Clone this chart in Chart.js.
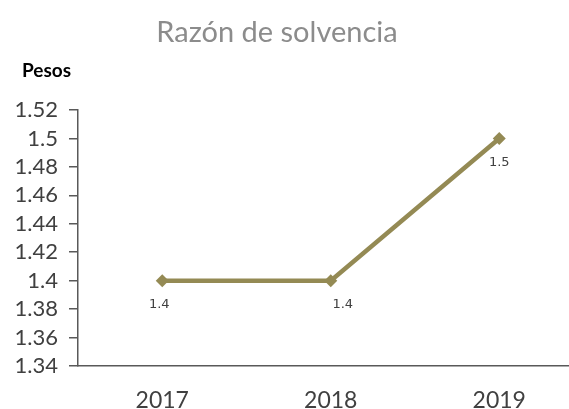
<!DOCTYPE html>
<html>
<head>
<meta charset="utf-8">
<script src="https://cdn.jsdelivr.net/npm/chart.js@4"></script>
<style>
  html, body { margin: 0; padding: 0; background: #fff; overflow: hidden; }
  /* plot runs a little past the right edge, as in the original */
  canvas { display: block; }
</style>
</head>
<body>
<canvas id="chart" width="590" height="409"></canvas>
<script>
// Data
const years = ["2017", "2018", "2019"];
const ratio = [1.4, 1.4, 1.5];
const ratioLabels = ["1.4", "1.4", "1.5"];
const yTicks = [1.34, 1.36, 1.38, 1.4, 1.42, 1.44, 1.46, 1.48, 1.5, 1.52];

const lineColor = "#948A54";
const axisColor = "#595959";

// title, unit label and point labels drawn on top
const textPlugin = {
  id: "texts",
  afterDatasetsDraw(chart) {
    const ctx = chart.ctx;
    ctx.save();
    ctx.fillStyle = "#8C8C8C";
    ctx.font = "29px Lato";
    ctx.textAlign = "center";
    ctx.textBaseline = "alphabetic";
    ctx.fillText("Razón de solvencia", 277, 42);

    ctx.fillStyle = "#000";
    ctx.font = "bold 19px Lato";
    ctx.textAlign = "left";
    ctx.fillText("Pesos", 22, 77);

    // small point labels under each marker
    const shift = [-3, 12, 0];
    const meta = chart.getDatasetMeta(0);
    ctx.fillStyle = "#404040";
    ctx.font = "13px 'DejaVu Sans'";
    ctx.textAlign = "center";
    ctx.textBaseline = "middle";
    meta.data.forEach((pt, i) => {
      ctx.fillText(ratioLabels[i], pt.x + shift[i], pt.y + 24);
    });
    ctx.restore();
  },
};

const ctx = document.getElementById("chart").getContext("2d");
const chart = new Chart(ctx, {
  type: "line",
  data: {
    labels: years,
    datasets: [
      {
        data: ratio,
        borderColor: lineColor,
        backgroundColor: lineColor,
        borderWidth: 4.5,
        pointStyle: "rectRot",
        pointRadius: 6.5,
        pointBorderWidth: 0,
        tension: 0,
      },
    ],
  },
  options: {
    responsive: false,
    animation: false,
    devicePixelRatio: 1,
    layout: { padding: { top: 110, left: 0, right: 0, bottom: 0 } },
    plugins: {
      legend: { display: false },
      title: { display: false },
      tooltip: { enabled: false },
    },
    scales: {
      x: {
        offset: true,
        grid: { display: false, drawTicks: false },
        border: { display: true, color: axisColor, width: 1.5 },
        ticks: { color: "#404040", font: { family: "Lato", size: 23 }, padding: 21 },
        afterFit(scale) { scale.height = 409 - 366; },
      },
      y: {
        min: 1.34,
        max: 1.52,
        afterBuildTicks(scale) {
          scale.ticks = yTicks.map((v) => ({ value: v }));
        },
        grid: { display: true, drawOnChartArea: false, tickLength: 9, color: axisColor, lineWidth: 1.5 },
        border: { display: true, color: axisColor, width: 1.5 },
        ticks: {
          autoSkip: false,
          color: "#404040",
          font: { family: "Lato", size: 22 },
          padding: 11,
          callback: (v) => String(Math.round(v * 100) / 100),
        },
        afterFit(scale) { scale.width = 78; },
      },
    },
  },
  plugins: [textPlugin],
});
</script>
</body>
</html>
